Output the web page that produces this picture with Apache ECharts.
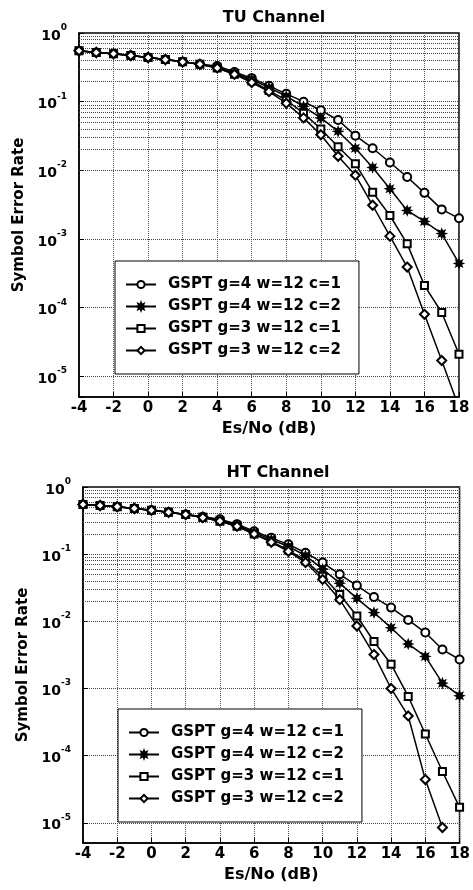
<!DOCTYPE html>
<html>
<head>
<meta charset="utf-8">
<script src="https://cdn.jsdelivr.net/npm/echarts@6/dist/echarts.min.js"></script>
<style>
  html, body { margin: 0; padding: 0; background: #fff; }
  #chart { width: 473px; height: 890px; }
</style>
</head>
<body>
<div id="chart"></div>
<script>
// Es/No in dB, one point per dB
const esNo = [-4, -3, -2, -1, 0, 1, 2, 3, 4, 5, 6, 7, 8, 9, 10, 11, 12, 13, 14, 15, 16, 17, 18]

const seriesNames = ['GSPT g=4 w=12 c=1', 'GSPT g=4 w=12 c=2', 'GSPT g=3 w=12 c=1', 'GSPT g=3 w=12 c=2']

// TU channel
const tuG4C1 = [0.55, 0.52, 0.50, 0.47, 0.44, 0.41, 0.38, 0.35, 0.33, 0.27, 0.22, 0.17, 0.13, 0.10, 0.075, 0.054, 0.032, 0.021, 0.013, 0.008, 0.0047, 0.0027, 0.002]
const tuG4C2 = [0.55, 0.52, 0.50, 0.47, 0.44, 0.41, 0.38, 0.35, 0.32, 0.26, 0.21, 0.16, 0.12, 0.085, 0.058, 0.037, 0.021, 0.011, 0.0054, 0.0026, 0.0018, 0.0012, 0.00044]
const tuG3C1 = [0.55, 0.52, 0.50, 0.47, 0.44, 0.41, 0.38, 0.35, 0.31, 0.25, 0.20, 0.145, 0.105, 0.068, 0.04, 0.022, 0.0125, 0.0048, 0.0022, 0.00085, 0.00021, 0.000085, 0.000021]
const tuG3C2 = [0.55, 0.52, 0.50, 0.47, 0.44, 0.41, 0.38, 0.35, 0.31, 0.25, 0.19, 0.14, 0.095, 0.058, 0.033, 0.016, 0.0085, 0.0031, 0.0011, 0.00039, 0.00008, 0.000017, 0.0000035]

// HT channel
const htG4C1 = [0.55, 0.53, 0.51, 0.48, 0.45, 0.42, 0.39, 0.36, 0.33, 0.28, 0.22, 0.175, 0.14, 0.105, 0.075, 0.05, 0.034, 0.023, 0.016, 0.0105, 0.0068, 0.0038, 0.0027]
const htG4C2 = [0.55, 0.53, 0.51, 0.48, 0.45, 0.42, 0.39, 0.36, 0.32, 0.27, 0.21, 0.165, 0.13, 0.095, 0.06, 0.037, 0.022, 0.0135, 0.008, 0.0046, 0.003, 0.0012, 0.00078]
const htG3C1 = [0.55, 0.53, 0.51, 0.48, 0.45, 0.42, 0.39, 0.35, 0.31, 0.26, 0.20, 0.155, 0.115, 0.08, 0.047, 0.025, 0.012, 0.005, 0.0023, 0.00076, 0.00021, 0.000058, 0.000017]
const htG3C2 = [0.55, 0.53, 0.51, 0.48, 0.45, 0.42, 0.39, 0.35, 0.31, 0.26, 0.20, 0.15, 0.11, 0.075, 0.042, 0.021, 0.0085, 0.0032, 0.001, 0.00039, 0.000044, 0.0000085, null]

const FONT = 'DejaVu Sans'

// 8-arm star for the '*' marker
function starPath() {
  let d = ''
  for (let i = 0; i < 16; i++) {
    const r = i % 2 === 0 ? 5 : 2.6
    const a = i * Math.PI / 8
    const x = (5 + r * Math.cos(a)).toFixed(2)
    const y = (5 + r * Math.sin(a)).toFixed(2)
    d += (i === 0 ? 'M' : 'L') + x + ',' + y + ' '
  }
  return 'path://' + d + 'Z'
}
const symbols = ['emptyCircle', starPath(), 'emptyRect', 'emptyDiamond']
const sizes = [8, 9, 7, 9]

// minor log grid lines (2..9 x 10^k)
const minorLines = []
for (let k = -6; k <= -1; k++) {
  for (let m = 2; m <= 9; m++) {
    const v = m * Math.pow(10, k)
    if (v > 5e-6 && v < 1) minorLines.push({ yAxis: v })
  }
}

function makeSeries(values, idx, grid) {
  const s = {
    name: seriesNames[idx],
    type: 'line',
    xAxisIndex: grid,
    yAxisIndex: grid,
    data: esNo.map((x, i) => [x, values[i]]),
    symbol: symbols[idx],
    symbolSize: sizes[idx],
    showAllSymbol: true,
    lineStyle: { color: '#000', width: 1.5 },
    itemStyle: { color: '#000', borderColor: '#000', borderWidth: 1.3 },
    emphasis: { disabled: true },
    animation: false,
    z: 5
  }
  if (idx === 0) {
    s.markLine = {
      silent: true,
      symbol: ['none', 'none'],
      label: { show: false },
      lineStyle: { type: 'dotted', color: '#444', width: 1 },
      data: minorLines,
      animation: false,
      z: 1
    }
  }
  return s
}

function yLabel(v) {
  const e = Math.log10(v)
  if (Math.abs(e - Math.round(e)) > 1e-6) return ''
  return '{b|10}{e|' + Math.round(e) + '}'
}

function xAxis(grid) {
  return {
    type: 'value', gridIndex: grid, min: -4, max: 18, interval: 2,
    name: 'Es/No (dB)', nameLocation: 'middle', nameGap: 24,
    nameTextStyle: { color: '#000', fontFamily: FONT, fontWeight: 'bold', fontSize: 16 },
    axisLine: { onZero: false, lineStyle: { color: '#000', width: 1.5 } },
    axisTick: { inside: true, length: 5, lineStyle: { color: '#000' } },
    axisLabel: { color: '#000', fontFamily: FONT, fontWeight: 'bold', fontSize: 15, margin: 4 },
    splitLine: { show: true, lineStyle: { type: 'dotted', color: '#555' } }
  }
}

function yAxis(grid) {
  return {
    type: 'log', gridIndex: grid, min: 5e-6, max: 1, logBase: 10,
    name: 'Symbol Error Rate', nameLocation: 'middle', nameGap: 50,
    nameTextStyle: { color: '#000', fontFamily: FONT, fontWeight: 'bold', fontSize: 15 },
    axisLine: { onZero: false, lineStyle: { color: '#000', width: 1.5 } },
    axisTick: { inside: true, length: 5, lineStyle: { color: '#000' } },
    axisLabel: {
      formatter: yLabel, margin: 12,
      rich: {
        b: { color: '#000', fontFamily: FONT, fontWeight: 'bold', fontSize: 14, lineHeight: 20, verticalAlign: 'bottom' },
        e: { color: '#000', fontFamily: FONT, fontWeight: 'bold', fontSize: 9, lineHeight: 10, verticalAlign: 'top' }
      }
    },
    splitLine: { show: true, lineStyle: { type: 'dotted', color: '#444' } }
  }
}

function legend(left, top) {
  return {
    orient: 'vertical', left: left, top: top,
    data: seriesNames,
    padding: [16, 18, 16, 10],
    itemWidth: 30, itemHeight: 9, itemGap: 7,
    backgroundColor: '#fff', borderColor: '#000', borderWidth: 1,
    textStyle: { color: '#000', fontFamily: FONT, fontWeight: 'bold', fontSize: 15, padding: [0, 0, 0, 7] },
    selectedMode: false
  }
}

const titleStyle = { color: '#000', fontFamily: FONT, fontWeight: 'bold', fontSize: 16 }

const chart = echarts.init(document.getElementById('chart'))
chart.setOption({
  backgroundColor: '#fff',
  animation: false,
  title: [
    { text: 'TU Channel', left: 269, top: 5, textAlign: 'center', textStyle: titleStyle },
    { text: 'HT Channel', left: 273, top: 460, textAlign: 'center', textStyle: titleStyle }
  ],
  legend: [legend(115, 261), legend(118, 709)],
  grid: [
    { left: 79, top: 33, width: 380, height: 364, show: true, borderColor: '#000', borderWidth: 1.5 },
    { left: 83, top: 487, width: 381, height: 356, show: true, borderColor: '#000', borderWidth: 1.5 }
  ],
  xAxis: [xAxis(0), xAxis(1)],
  yAxis: [yAxis(0), yAxis(1)],
  series: [
    makeSeries(tuG4C1, 0, 0), makeSeries(tuG4C2, 1, 0), makeSeries(tuG3C1, 2, 0), makeSeries(tuG3C2, 3, 0),
    makeSeries(htG4C1, 0, 1), makeSeries(htG4C2, 1, 1), makeSeries(htG3C1, 2, 1), makeSeries(htG3C2, 3, 1)
  ]
})
</script>
</body>
</html>
